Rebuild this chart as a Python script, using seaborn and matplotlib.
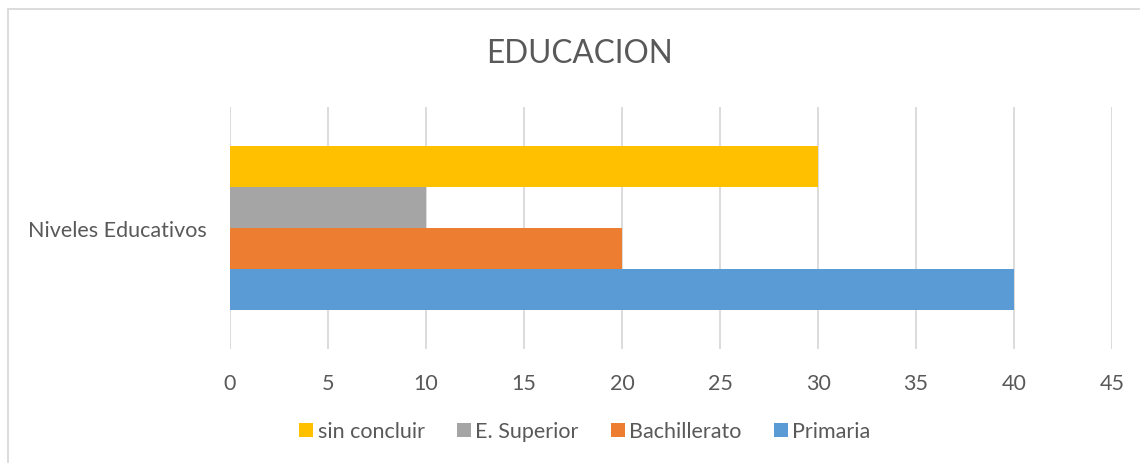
import pandas as pd
import matplotlib.pyplot as plt
import seaborn as sns
from matplotlib.lines import Line2D

# data
category = ["Niveles Educativos"]
niveles = ["sin concluir", "E. Superior", "Bachillerato", "Primaria"]
valores = [30, 10, 20, 40]
colores = ["#FFC000", "#A5A5A5", "#ED7D31", "#5B9BD5"]
x_ticks = [0, 5, 10, 15, 20, 25, 30, 35, 40, 45]

df = pd.DataFrame({"categoria": category * len(niveles), "nivel": niveles, "valor": valores})

sns.set_style("white")
plt.rcParams["font.family"] = ["Lato", "DejaVu Sans"]

fig = plt.figure(figsize=(11.4, 4.64), dpi=100)
ax = fig.add_axes([0.2018, 0.2457, 0.7737, 0.5216])

sns.barplot(data=df, x="valor", y="categoria", hue="nivel", hue_order=niveles,
            palette=colores, width=0.678, saturation=1, linewidth=0, ax=ax, legend=True)

ax.set_xlim(0, 45)
ax.set_ylim(0.5, -0.5)
ax.set_xticks(x_ticks)
ax.set_xlabel("")
ax.set_ylabel("")
ax.xaxis.grid(True, color="#D9D9D9", linewidth=1.3)
ax.set_axisbelow(True)
for s in ax.spines.values():
    s.set_visible(False)
ax.tick_params(axis="both", length=0, labelsize=15.5, labelcolor="#595959")
ax.tick_params(axis="x", pad=17)
ax.tick_params(axis="y", pad=16.5)

fig.text(0.508, 0.883, "EDUCACION", ha="center", va="center", fontsize=22.7, color="#595959")

handles, labels = ax.get_legend_handles_labels()
ax.legend(handles, labels, loc="center", bbox_to_anchor=(0.513, 0.068),
          bbox_transform=fig.transFigure, ncol=4, frameon=False, fontsize=15.5,
          labelcolor="#595959", handlelength=0.65, handleheight=0.65,
          handletextpad=0.2, columnspacing=1.5)

# chart area border: only top and left edges visible
fig.add_artist(Line2D([8 / 1140, 1], [1 - 10 / 464, 1 - 10 / 464], transform=fig.transFigure,
                      color="#D9D9D9", linewidth=1.3))
fig.add_artist(Line2D([8 / 1140, 8 / 1140], [0, 1 - 10 / 464], transform=fig.transFigure,
                      color="#D9D9D9", linewidth=1.3))

fig.savefig("out.png", dpi=100, facecolor="white")
